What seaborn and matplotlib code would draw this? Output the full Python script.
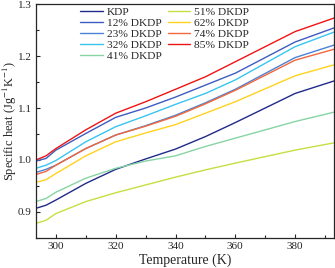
import pandas as pd
import matplotlib.pyplot as plt
import seaborn as sns
from matplotlib.ticker import MultipleLocator

temps = [293.3, 296.7, 300, 310, 320, 330, 340, 350, 360, 380, 393]

kdp = [0.907, 0.913, 0.923, 0.955, 0.982, 1.002, 1.021, 1.045, 1.072, 1.128, 1.152]
d12 = [0.998, 1.003, 1.019, 1.051, 1.082, 1.100, 1.121, 1.144, 1.167, 1.227, 1.254]
d23 = [0.976, 0.982, 0.990, 1.022, 1.048, 1.066, 1.086, 1.110, 1.136, 1.197, 1.221]
d32 = [0.984, 0.990, 0.999, 1.035, 1.064, 1.085, 1.107, 1.128, 1.154, 1.218, 1.246]
d41 = [0.920, 0.926, 0.938, 0.965, 0.984, 0.998, 1.008, 1.026, 1.042, 1.074, 1.092]
d51 = [0.878, 0.884, 0.897, 0.920, 0.937, 0.952, 0.967, 0.981, 0.994, 1.019, 1.033]
d62 = [0.957, 0.962, 0.974, 1.008, 1.035, 1.052, 1.068, 1.090, 1.112, 1.162, 1.183]
d74 = [0.972, 0.978, 0.990, 1.022, 1.048, 1.065, 1.084, 1.108, 1.134, 1.192, 1.213]
d85 = [1.000, 1.008, 1.022, 1.058, 1.090, 1.112, 1.136, 1.160, 1.189, 1.247, 1.273]

names = ["KDP", "12% DKDP", "23% DKDP", "32% DKDP", "41% DKDP",
         "51% DKDP", "62% DKDP", "74% DKDP", "85% DKDP"]
series = [kdp, d12, d23, d32, d41, d51, d62, d74, d85]
colors = ["#1f2a8a", "#3d5cc0", "#4a82d4", "#38c4f0", "#86d4a4",
          "#c4e040", "#ffd21e", "#f2673c", "#ee1414"]

rows = []
for n, vals in zip(names, series):
    for t, v in zip(temps, vals):
        rows.append({"T": t, "cp": v, "sample": n})
df = pd.DataFrame(rows)

sns.set_style("ticks")
plt.rcParams['font.family'] = ['Liberation Serif', 'DejaVu Serif']
plt.rcParams['mathtext.fontset'] = 'stix'

fig = plt.figure(figsize=(3.35, 2.68), dpi=100)
ax = fig.add_axes([0.107, 0.112, 0.89, 0.873])
sns.lineplot(data=df, x="T", y="cp", hue="sample", palette=colors,
             hue_order=names, linewidth=1.0, ax=ax)

ax.set_xlim(293.3, 393)
ax.set_ylim(0.85, 1.3)
ax.xaxis.set_major_locator(MultipleLocator(20))
ax.xaxis.set_minor_locator(MultipleLocator(10))
ax.yaxis.set_major_locator(MultipleLocator(0.1))
ax.yaxis.set_minor_locator(MultipleLocator(0.05))
ax.tick_params(direction="in", labelsize=8, length=3, width=0.8, pad=3)
ax.tick_params(which="minor", direction="in", length=2, width=0.8)
for s in ax.spines.values():
    s.set_linewidth(0.9)
ax.set_xlabel("Temperature (K)", fontsize=10, labelpad=2)
ax.set_ylabel("Specific heat (Jg$^{-1}$K$^{-1}$)", fontsize=9)
ax.yaxis.set_label_coords(-0.057, 0.5)

ax.legend(ncol=2, loc="upper left", bbox_to_anchor=(0.145, 0.99), frameon=False,
          fontsize=8.2, handlelength=2.0, labelspacing=0.08, columnspacing=0.5,
          handletextpad=0.35, borderpad=0.0, borderaxespad=0.1)

fig.savefig("out.png", dpi=100)
